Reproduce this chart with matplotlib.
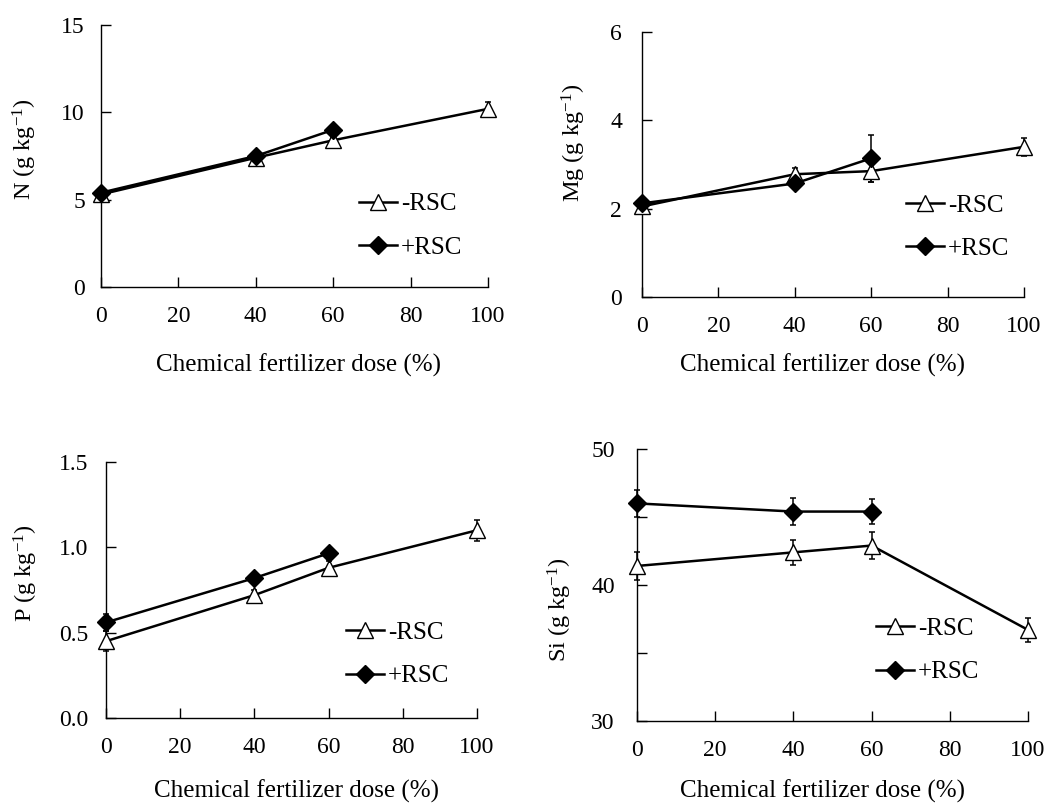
import numpy as np
import matplotlib
matplotlib.use("Agg")
import matplotlib.pyplot as plt
from matplotlib.ticker import MultipleLocator, FormatStrFormatter

plt.rcParams['font.family'] = ['Liberation Serif', 'DejaVu Serif']
plt.rcParams['mathtext.fontset'] = 'custom'
plt.rcParams['mathtext.rm'] = 'Liberation Serif'
plt.rcParams['mathtext.it'] = 'Liberation Serif:italic'

# chemical fertilizer dose (%)
dose_minus = [0, 40, 60, 100]
dose_plus = [0, 40, 60]

# N (g kg-1)
n_minus = [5.3, 7.4, 8.4, 10.2]
n_minus_err = [0.2, 0.2, 0.2, 0.4]
n_plus = [5.4, 7.5, 9.0]
n_plus_err = [0.15, 0.2, 0.2]

# Mg (g kg-1)
mg_minus = [2.05, 2.78, 2.85, 3.40]
mg_minus_err = [0.1, 0.15, 0.25, 0.2]
mg_plus = [2.12, 2.57, 3.14]
mg_plus_err = [0.05, 0.1, 0.53]

# P (g kg-1)
p_minus = [0.45, 0.72, 0.88, 1.10]
p_minus_err = [0.06, 0.03, 0.04, 0.06]
p_plus = [0.56, 0.82, 0.965]
p_plus_err = [0.05, 0.02, 0.03]

# Si (g kg-1)
si_minus = [41.4, 42.4, 42.9, 36.7]
si_minus_err = [1.0, 0.9, 1.0, 0.9]
si_plus = [46.0, 45.4, 45.4]
si_plus_err = [1.0, 1.0, 0.9]

W, H = 1055, 805
fig = plt.figure(figsize=(W / 100, H / 100), dpi=100)


def panel(box, name, minus, minus_err, plus, plus_err, ylim, major, minor, fmt,
          ypad, ylab_xy, xlab_xy, leg_xy):
  left, right, top, bottom = box
  ax = fig.add_axes([left / W, 1 - bottom / H, (right - left) / W, (bottom - top) / H])

  def to_axes(px, py):
    return (px - left) / (right - left), (bottom - py) / (bottom - top)

  ax.errorbar(dose_minus, minus, yerr=minus_err, fmt='none', ecolor='black',
              elinewidth=1.1, capsize=2.5, capthick=1.1, clip_on=False, zorder=2)
  ax.errorbar(dose_plus, plus, yerr=plus_err, fmt='none', ecolor='black',
              elinewidth=1.1, capsize=2.5, capthick=1.1, clip_on=False, zorder=2)
  ax.plot(dose_minus, minus, color='black', lw=1.8, marker='^', ms=11.5,
          mfc='white', mec='black', mew=1.0, label='-RSC', clip_on=False, zorder=3)
  ax.plot(dose_plus, plus, color='black', lw=1.8, marker='D', ms=8.8,
          mfc='black', mec='black', label='+RSC', clip_on=False, zorder=4)

  ax.set_xlim(0, 100)
  ax.set_ylim(*ylim)
  ax.xaxis.set_major_locator(MultipleLocator(20))
  ax.yaxis.set_major_locator(MultipleLocator(major))
  if minor:
    ax.yaxis.set_minor_locator(MultipleLocator(minor))
  ax.yaxis.set_major_formatter(FormatStrFormatter(fmt))

  for s in ['top', 'right']:
    ax.spines[s].set_visible(False)
  for s in ['left', 'bottom']:
    ax.spines[s].set_linewidth(1.0)
  ax.tick_params(axis='y', which='both', direction='in', length=7, width=1.0,
                 labelsize=17, pad=ypad)
  ax.tick_params(axis='x', direction='in', length=7, width=1.0, labelsize=17, pad=14)

  ax.set_xlabel('Chemical fertilizer dose (%)', fontsize=18, va='center')
  ax.xaxis.set_label_coords(*to_axes(*xlab_xy))
  ax.set_ylabel(name + ' (g kg$^{\\mathregular{-1}}$)', fontsize=17.5, va='center')
  ax.yaxis.set_label_coords(*to_axes(*ylab_xy))

  ax.legend(loc='upper left', bbox_to_anchor=(leg_xy[0] / W, 1 - leg_xy[1] / H),
            bbox_transform=fig.transFigure, frameon=False, fontsize=18,
            borderpad=0, borderaxespad=0, handlelength=1.5, handletextpad=0.18,
            labelspacing=0.85)
  return ax


ax1 = panel((101, 488, 25, 287), 'N', n_minus, n_minus_err, n_plus, n_plus_err,
            (0, 15), 5, None, '%g', 11.5, (25, 149), (298, 365), (359, 193))

ax2 = panel((642, 1024, 32, 297), 'Mg', mg_minus, mg_minus_err, mg_plus, mg_plus_err,
            (0, 6), 2, None, '%g', 14.4, (574, 143), (823, 365), (906, 194))

ax3 = panel((106, 477, 462, 718), 'P', p_minus, p_minus_err, p_plus, p_plus_err,
            (0, 1.5), 0.5, None, '%.1f', 13, (26, 573), (297, 791), (346, 621))

ax4 = panel((637, 1028, 449, 721), 'Si', si_minus, si_minus_err, si_plus, si_plus_err,
            (30, 50), 10, 5, '%g', 16, (560, 610), (823, 791), (876, 617))

plt.savefig('out.png', dpi=100)
